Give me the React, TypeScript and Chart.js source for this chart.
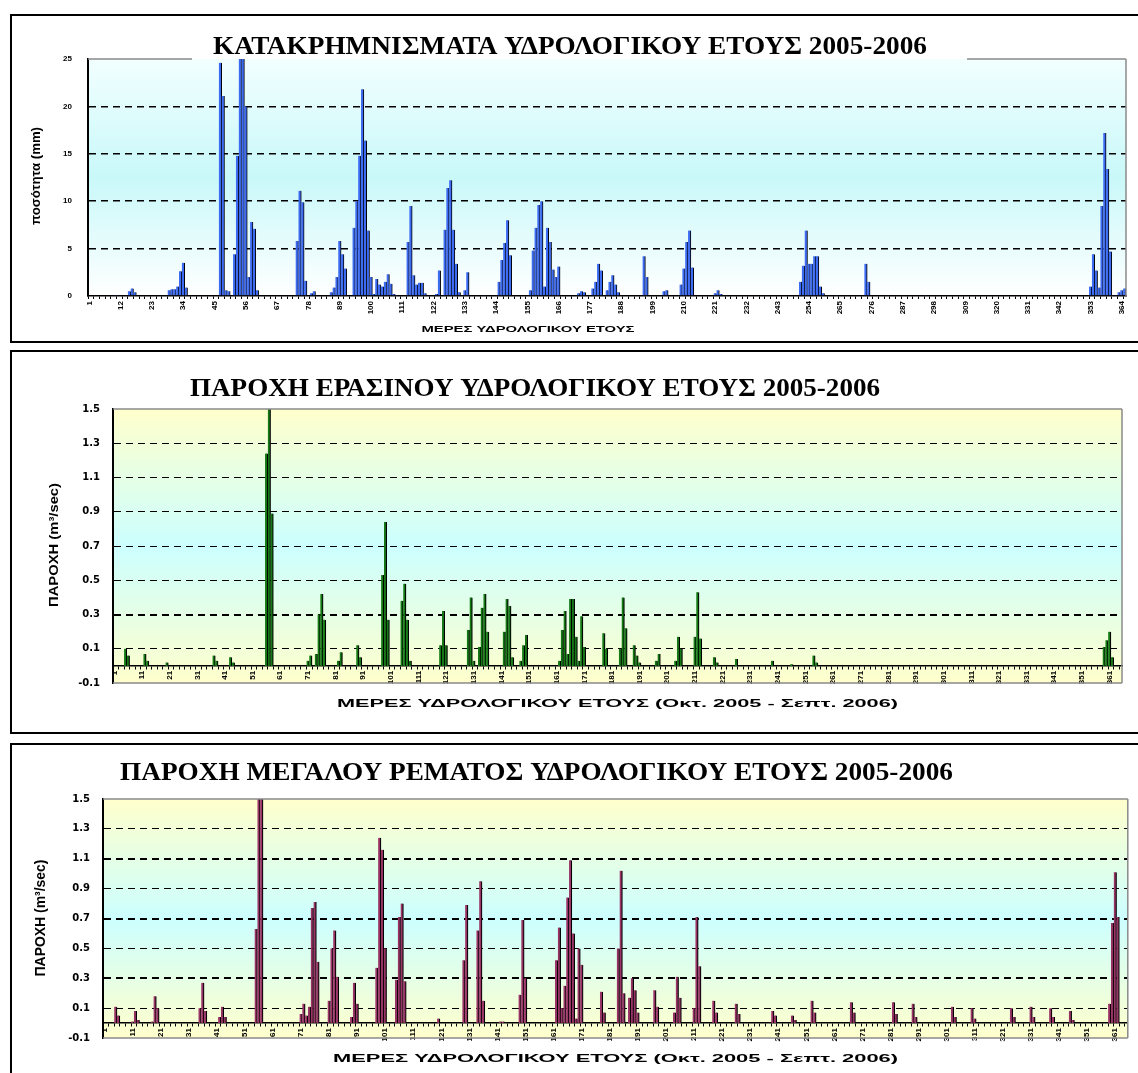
import React, { useEffect, useRef } from "react";
import { Chart, registerables } from "chart.js";

Chart.register(...registerables);

// ---------- data ----------
const DAY_COUNT = 365;
const dayCategories: string[] = Array.from({ length: DAY_COUNT }, (_, i) => String(i + 1));
const rainLabelEvery = 11;
const flowLabelEvery = 10;

// [day of hydrological year, daily rainfall mm]
const rainfallMm: [number, number][] = [
  [10, 0.1], [11, 0.1], [15, 0.5], [16, 0.8], [17, 0.4],
  [29, 0.6], [30, 0.7], [31, 0.7], [32, 1.0], [33, 2.6], [34, 3.5], [35, 0.9],
  [47, 24.6], [48, 21.1], [49, 0.6], [50, 0.5],
  [52, 4.4], [53, 14.8], [54, 26], [55, 26], [56, 20.0], [57, 2.0], [58, 7.8], [59, 7.1], [60, 0.6],
  [74, 5.8], [75, 11.1], [76, 9.9], [77, 1.6], [79, 0.3], [80, 0.5],
  [86, 0.4], [87, 0.9], [88, 2.0], [89, 5.8], [90, 4.4], [91, 2.9],
  [94, 7.2], [95, 10.0], [96, 14.8], [97, 21.8], [98, 16.4], [99, 6.9], [100, 2.0],
  [101, 0.2], [102, 1.8], [103, 1.2], [104, 1.0], [105, 1.5], [106, 2.3], [107, 1.3], [108, 0.2], [109, 0.1],
  [113, 5.7], [114, 9.5], [115, 2.2], [116, 1.2], [117, 1.4], [118, 1.4], [119, 0.3],
  [123, 0.2], [124, 2.7],
  [126, 7.0], [127, 11.4], [128, 12.2], [129, 7.0], [130, 3.4], [131, 0.4],
  [133, 0.6], [134, 2.5], [140, 0.1],
  [145, 1.5], [146, 3.8], [147, 5.6], [148, 8.0], [149, 4.3],
  [156, 0.6], [157, 4.8], [158, 7.2], [159, 9.6], [160, 10.0], [161, 1.0], [162, 7.2], [163, 5.7], [164, 2.8], [165, 2.0], [166, 3.1],
  [173, 0.3], [174, 0.5], [175, 0.4],
  [178, 0.8], [179, 1.5], [180, 3.4], [181, 2.7],
  [183, 0.6], [184, 1.5], [185, 2.2], [186, 1.2], [187, 0.4],
  [196, 4.2], [197, 2.0], [203, 0.5], [204, 0.6],
  [209, 1.2], [210, 2.9], [211, 5.7], [212, 6.9], [213, 3.0],
  [221, 0.3], [222, 0.6], [223, 0.2],
  [251, 1.5], [252, 3.2], [253, 6.9], [254, 3.4], [255, 3.4], [256, 4.2], [257, 4.2], [258, 1.0], [259, 0.3],
  [264, 0.1], [274, 3.4], [275, 1.5], [282, 0.1], [295, 0.1],
  [353, 1.0], [354, 4.4], [355, 2.7], [356, 0.9], [357, 9.5], [358, 17.2], [359, 13.4], [360, 4.7],
  [361, 0.1], [362, 0.1], [363, 0.4], [364, 0.6], [365, 0.8],
];

// [day, discharge m3/s] — Erasinos
const erasinosFlow: [number, number][] = [
  [5, 0.1], [6, 0.06], [12, 0.07], [13, 0.03], [20, 0.02], [37, 0.06], [38, 0.03], [43, 0.05], [44, 0.02],
  [56, 1.24], [57, 1.6], [58, 0.89],
  [71, 0.03], [72, 0.06], [74, 0.07], [75, 0.3], [76, 0.42], [77, 0.27],
  [82, 0.03], [83, 0.08], [89, 0.12], [90, 0.05],
  [98, 0.53], [99, 0.84], [100, 0.27],
  [105, 0.38], [106, 0.48], [107, 0.27], [108, 0.03],
  [119, 0.12], [120, 0.32], [121, 0.12],
  [129, 0.21], [130, 0.4], [131, 0.03],
  [133, 0.11], [134, 0.34], [135, 0.42], [136, 0.2],
  [142, 0.2], [143, 0.39], [144, 0.35], [145, 0.05],
  [148, 0.03], [149, 0.12], [150, 0.18],
  [162, 0.03], [163, 0.21], [164, 0.32], [165, 0.07], [166, 0.39], [167, 0.39], [168, 0.17], [169, 0.03], [170, 0.29], [171, 0.11],
  [178, 0.19], [179, 0.1], [184, 0.1], [185, 0.4], [186, 0.22],
  [189, 0.12], [190, 0.06], [191, 0.02], [197, 0.03], [198, 0.07],
  [204, 0.03], [205, 0.17], [206, 0.1], [211, 0.17], [212, 0.43], [213, 0.16],
  [218, 0.05], [219, 0.02], [226, 0.04], [239, 0.03], [246, 0.01], [254, 0.06], [255, 0.02],
  [359, 0.11], [360, 0.15], [361, 0.2], [362, 0.05],
];

// [day, discharge m3/s] — Megalo Rema
const megaloRemaFlow: [number, number][] = [
  [5, 0.11], [6, 0.05], [11, 0.01], [12, 0.08], [13, 0.02], [18, 0.01], [19, 0.18], [20, 0.1],
  [35, 0.1], [36, 0.27], [37, 0.08], [42, 0.04], [43, 0.11], [44, 0.04],
  [55, 0.63], [56, 1.6], [57, 1.6],
  [71, 0.06], [72, 0.13], [73, 0.05], [74, 0.11], [75, 0.77], [76, 0.81], [77, 0.41],
  [81, 0.15], [82, 0.5], [83, 0.62], [84, 0.31], [89, 0.04], [90, 0.27], [91, 0.13],
  [98, 0.37], [99, 1.24], [100, 1.16], [101, 0.5],
  [105, 0.29], [106, 0.71], [107, 0.8], [108, 0.28], [120, 0.03],
  [129, 0.42], [130, 0.79], [134, 0.62], [135, 0.95], [136, 0.15], [142, 0.01], [143, 0.01],
  [149, 0.19], [150, 0.69], [151, 0.3],
  [162, 0.42], [163, 0.64], [164, 0.1], [165, 0.25], [166, 0.84], [167, 1.09], [168, 0.6], [169, 0.03], [170, 0.5], [171, 0.39],
  [178, 0.21], [179, 0.07], [184, 0.5], [185, 1.02], [186, 0.2],
  [188, 0.17], [189, 0.3], [190, 0.22], [191, 0.07], [197, 0.22], [198, 0.11],
  [204, 0.07], [205, 0.31], [206, 0.17], [211, 0.1], [212, 0.71], [213, 0.38],
  [218, 0.15], [219, 0.07], [226, 0.13], [227, 0.06], [239, 0.08], [240, 0.05], [246, 0.05], [247, 0.02],
  [253, 0.15], [254, 0.07], [267, 0.14], [268, 0.07], [282, 0.14], [283, 0.06], [289, 0.13], [290, 0.04],
  [303, 0.11], [304, 0.04], [310, 0.1], [311, 0.03], [324, 0.1], [325, 0.04], [331, 0.11], [332, 0.04],
  [338, 0.1], [339, 0.04], [345, 0.08], [346, 0.02],
  [359, 0.13], [360, 0.67], [361, 1.01], [362, 0.71],
];

const rainTitle = "ΚΑΤΑΚΡΗΜΝΙΣΜΑΤΑ ΥΔΡΟΛΟΓΙΚΟΥ ΕΤΟΥΣ 2005-2006";
const erasinosTitle = "ΠΑΡΟΧΗ ΕΡΑΣΙΝΟΥ ΥΔΡΟΛΟΓΙΚΟΥ ΕΤΟΥΣ 2005-2006";
const remaTitle = "ΠΑΡΟΧΗ ΜΕΓΑΛΟΥ ΡΕΜΑΤΟΣ ΥΔΡΟΛΟΓΙΚΟΥ ΕΤΟΥΣ 2005-2006";
const rainXTitle = "ΜΕΡΕΣ ΥΔΡΟΛΟΓΙΚΟΥ ΕΤΟΥΣ";
const flowXTitle = "ΜΕΡΕΣ ΥΔΡΟΛΟΓΙΚΟΥ ΕΤΟΥΣ (Οκτ. 2005 - Σεπτ. 2006)";
const rainYTitle = "ποσότητα (mm)";
const flowYTitle = "ΠΑΡΟΧΗ (m³/sec)";

function toSeries(pairs: [number, number][]): (number | null)[] {
  const out: (number | null)[] = new Array(DAY_COUNT).fill(null);
  pairs.forEach(([d, v]) => { out[d - 1] = v; });
  return out;
}

// ---------- drawing helpers ----------
type TextSpec = { text: string; x: number; y: number; width: number; font: string; rotate?: boolean };

function drawStretched(ctx: CanvasRenderingContext2D, t: TextSpec) {
  ctx.save();
  ctx.font = t.font;
  const w = ctx.measureText(t.text).width;
  ctx.translate(t.x, t.y);
  if (t.rotate) ctx.rotate(-Math.PI / 2);
  ctx.scale(t.width / w, 1);
  ctx.textAlign = "center";
  ctx.textBaseline = t.rotate ? "middle" : "alphabetic";
  ctx.fillStyle = "#000";
  ctx.fillText(t.text, 0, 0);
  ctx.restore();
}

type Spec = {
  left: number; top: number; width: number; height: number;
  values: (number | null)[];
  color: string; edge: number;
  yMin: number; yMax: number; yStep: number; decimals: number;
  thick: number[]; gridW: number; thickW: number;
  yAxisWidth: number; yTickPad: number; yTickFont: number; yTickFamily: string;
  pad: { top: number; right: number; bottom: number };
  xAtZero: boolean; xAxisHeight: number; labelEvery: number;
  gradient: [number, string][];
  topGap?: [number, number];
  bottomBorder: boolean;
  texts: TextSpec[];
};

function makeDecor(s: Spec) {
  return {
    id: "decor",
    beforeDraw(chart: any) {
      const { ctx, chartArea: a } = chart;
      const g = ctx.createLinearGradient(0, a.top, 0, a.bottom);
      s.gradient.forEach(([o, c]) => g.addColorStop(o, c));
      ctx.save();
      ctx.fillStyle = g;
      ctx.fillRect(a.left, a.top, a.right - a.left, a.bottom - a.top);
      ctx.restore();
    },
    afterDraw(chart: any) {
      const { ctx, chartArea: a } = chart;
      ctx.save();
      ctx.strokeStyle = "#8a8a8a";
      ctx.lineWidth = 1.5;
      ctx.beginPath();
      if (s.topGap) {
        ctx.moveTo(a.left, a.top); ctx.lineTo(s.topGap[0], a.top);
        ctx.moveTo(s.topGap[1], a.top); ctx.lineTo(a.right, a.top);
      } else {
        ctx.moveTo(a.left, a.top); ctx.lineTo(a.right, a.top);
      }
      ctx.moveTo(a.right, a.top); ctx.lineTo(a.right, a.bottom);
      if (s.bottomBorder) { ctx.moveTo(a.left, a.bottom); ctx.lineTo(a.right, a.bottom); }
      ctx.stroke();
      ctx.restore();
      s.texts.forEach((t) => drawStretched(ctx, t));
    },
  };
}

function buildConfig(s: Spec): any {
  const near = (a: number, b: number) => Math.abs(a - b) < 1e-6;
  const isEdge = (v: number) => near(v, s.yMin) || near(v, s.yMax) || near(v, 0);
  return {
    type: "bar",
    data: {
      labels: dayCategories,
      datasets: [{
        data: s.values,
        backgroundColor: s.color,
        borderColor: "#000",
        borderWidth: { top: 0, left: 0, bottom: 0, right: s.edge },
        borderSkipped: "start",
        barPercentage: 1,
        categoryPercentage: 1,
      }],
    },
    options: {
      animation: false,
      responsive: false,
      devicePixelRatio: 1,
      events: [],
      layout: { padding: { left: 0, top: s.pad.top, right: s.pad.right, bottom: s.pad.bottom } },
      plugins: { legend: { display: false }, title: { display: false }, tooltip: { enabled: false } },
      scales: {
        x: {
          type: "category",
          position: s.xAtZero ? { y: 0 } : "bottom",
          afterFit: (sc: any) => { sc.height = s.xAxisHeight; },
          grid: {
            drawOnChartArea: false,
            drawTicks: true,
            tickLength: 3,
            tickWidth: 1,
            tickColor: (c: any) => (c.index % 2 === 0 ? "#000" : "rgba(0,0,0,0)"),
          },
          border: { display: true, color: "#000", width: 1.5 },
          ticks: {
            autoSkip: false,
            minRotation: 90,
            maxRotation: 90,
            padding: 2,
            color: "#000",
            font: { family: "'Liberation Sans', Arial", size: 8, weight: "bold" },
            callback: (_v: any, i: number) => (i % s.labelEvery === 0 ? dayCategories[i] : ""),
          },
        },
        y: {
          min: s.yMin,
          max: s.yMax,
          afterFit: (sc: any) => { sc.width = s.yAxisWidth; },
          grid: {
            drawTicks: false,
            color: (c: any) => (c.tick && !isEdge(c.tick.value) ? "#000" : "rgba(0,0,0,0)"),
            lineWidth: (c: any) => (c.tick && s.thick.some((t) => near(t, c.tick.value)) ? s.thickW : s.gridW),
          },
          border: { display: true, color: "#000", width: 2, dash: [7, 5] },
          ticks: {
            stepSize: s.yStep,
            padding: s.yTickPad,
            color: "#000",
            font: { family: s.yTickFamily, size: s.yTickFont, weight: "bold" },
            callback: (v: any) => Number(v).toFixed(s.decimals),
          },
        },
      },
    },
    plugins: [makeDecor(s)],
  };
}

const serif = (px: number) => `bold ${px}px 'Liberation Serif', 'Times New Roman', serif`;
const sans = (px: number) => `bold ${px}px 'Liberation Sans', Arial, sans-serif`;

const rainSpec: Spec = {
  left: 12, top: 16, width: 1126, height: 324,
  values: toSeries(rainfallMm), color: "#3d6cf2", edge: 1,
  yMin: 0, yMax: 25, yStep: 5, decimals: 0,
  thick: [], gridW: 1.5, thickW: 1.5,
  yAxisWidth: 76, yTickPad: 16, yTickFont: 8, yTickFamily: "'Liberation Sans', Arial",
  pad: { top: 43, right: 12, bottom: 0 },
  xAtZero: false, xAxisHeight: 44, labelEvery: rainLabelEvery,
  gradient: [[0, "#f2ffff"], [0.5, "#c9f8f9"], [1, "#ffffff"]],
  topGap: [180, 955],
  bottomBorder: false,
  texts: [
    { text: rainTitle, x: 558, y: 38, width: 714, font: serif(25) },
    { text: rainXTitle, x: 516, y: 315.5, width: 213, font: sans(9) },
    { text: rainYTitle, x: 25, y: 160, width: 98, font: sans(12), rotate: true },
  ],
};

const erasinosSpec: Spec = {
  left: 12, top: 352, width: 1126, height: 380,
  values: toSeries(erasinosFlow), color: "#157a15", edge: 1.2,
  yMin: -0.1, yMax: 1.5, yStep: 0.2, decimals: 1,
  thick: [0.3], gridW: 1, thickW: 2,
  yAxisWidth: 101, yTickPad: 13, yTickFont: 10, yTickFamily: "'DejaVu Sans', Arial",
  pad: { top: 57, right: 16, bottom: 49 },
  xAtZero: true, xAxisHeight: 30, labelEvery: flowLabelEvery,
  gradient: [[0, "#ffffcc"], [0.5, "#ccffff"], [1, "#ffffcc"]],
  bottomBorder: true,
  texts: [
    { text: erasinosTitle, x: 523, y: 44, width: 690, font: serif(25) },
    { text: flowXTitle, x: 605.5, y: 355, width: 561, font: sans(11) },
    { text: flowYTitle, x: 42.5, y: 193, width: 124, font: sans(13), rotate: true },
  ],
};

const remaSpec: Spec = {
  left: 12, top: 746, width: 1126, height: 327,
  values: toSeries(megaloRemaFlow), color: "#9a3366", edge: 1.2,
  yMin: -0.1, yMax: 1.5, yStep: 0.2, decimals: 1,
  thick: [1.1, 0.7, 0.3], gridW: 1, thickW: 2,
  yAxisWidth: 91, yTickPad: 13, yTickFont: 10, yTickFamily: "'DejaVu Sans', Arial",
  pad: { top: 53, right: 10, bottom: 35 },
  xAtZero: true, xAxisHeight: 30, labelEvery: flowLabelEvery,
  gradient: [[0, "#ffffcc"], [0.5, "#ccffff"], [1, "#ffffcc"]],
  bottomBorder: true,
  texts: [
    { text: remaTitle, x: 524.5, y: 34, width: 833, font: serif(25) },
    { text: flowXTitle, x: 603.5, y: 316, width: 565, font: sans(11) },
    { text: flowYTitle, x: 29.5, y: 172, width: 117, font: sans(14), rotate: true },
  ],
};

function ChartCanvas({ spec }: { spec: Spec }) {
  const ref = useRef<HTMLCanvasElement | null>(null);
  useEffect(() => {
    if (!ref.current) return;
    const chart = new Chart(ref.current, buildConfig(spec));
    return () => chart.destroy();
  }, [spec]);
  return (
    <canvas
      ref={ref}
      width={spec.width}
      height={spec.height}
      style={{ position: "absolute", left: spec.left, top: spec.top, width: spec.width, height: spec.height }}
    />
  );
}

const frame = (top: number, height: number, bottom: boolean): React.CSSProperties => ({
  position: "absolute",
  left: 10,
  top,
  width: 1140,
  height,
  boxSizing: "border-box",
  borderLeft: "2px solid #000",
  borderTop: "2px solid #000",
  borderBottom: bottom ? "2px solid #000" : "none",
});

export default function App() {
  return (
    <div style={{ position: "absolute", left: 0, top: 0, width: 1138, height: 1073, overflow: "hidden", background: "#fff" }}>
      <div style={frame(14, 329, true)} />
      <div style={frame(350, 384, true)} />
      <div style={frame(743, 400, false)} />
      <ChartCanvas spec={rainSpec} />
      <ChartCanvas spec={erasinosSpec} />
      <ChartCanvas spec={remaSpec} />
    </div>
  );
}
